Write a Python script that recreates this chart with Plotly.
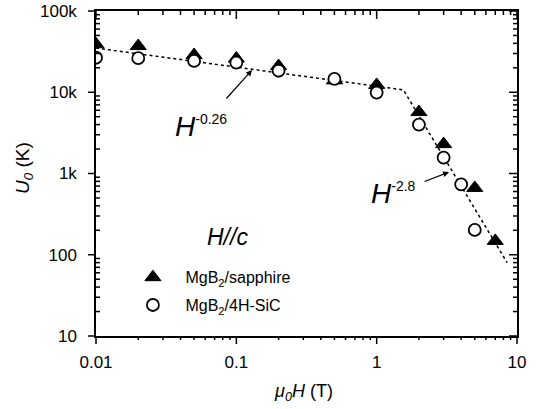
import math
import plotly.graph_objects as go

# Field values (T) and activation energies U0 (K)
h_sapphire = [0.01, 0.02, 0.05, 0.1, 0.2, 0.5, 1, 2, 3, 5, 7]
u_sapphire = [39000, 37000, 28700, 26000, 21000, 14000, 12300, 5700, 2300, 664, 148]

h_sic = [0.01, 0.02, 0.05, 0.1, 0.2, 0.5, 1, 2, 3, 4, 5]
u_sic = [26600, 26300, 24300, 23100, 18400, 14600, 9900, 4000, 1570, 736, 202]

# Power-law guide lines (H^-0.26 then H^-2.8), straight on log-log axes
h_fit = [0.01, 1.55, 8.5]
u_fit = [35000, 10700, 80]

x_tickvals = [0.01, 0.1, 1, 10]
x_ticktext = ["0.01", "0.1", "1", "10"]
y_tickvals = [10, 100, 1000, 10000, 100000]
y_ticktext = ["10", "100", "1k", "10k", "100k"]

# minor tick positions 2..9 within each decade
x_minor = [m * d for d in (0.01, 0.1, 1) for m in range(2, 10)]
y_minor = [m * d for d in (10, 100, 1000, 10000) for m in range(2, 10)]

FONT = "Liberation Sans, Arial, sans-serif"
X_RANGE = [-2, 1]
Y_RANGE = [1, 5]
W, H = 538, 409
MARGIN = dict(l=96, r=21, t=11, b=73)
PLOT_W = W - MARGIN["l"] - MARGIN["r"]
PLOT_H = H - MARGIN["t"] - MARGIN["b"]

fig = go.Figure()

fig.add_trace(go.Scatter(
    x=h_fit, y=u_fit, mode="lines",
    line=dict(color="black", width=1.5, dash="dot"),
    showlegend=False, hoverinfo="skip"))

fig.add_trace(go.Scatter(
    x=h_sapphire, y=u_sapphire, mode="markers",
    name="MgB<sub>2</sub>/sapphire", legendgroup="a",
    marker=dict(symbol="triangle-up", size=14, color="black",
                line=dict(color="black", width=1))))

fig.add_trace(go.Scatter(
    x=h_sic, y=u_sic, mode="markers",
    name="MgB<sub>2</sub>/4H-SiC", legendgroup="b",
    marker=dict(symbol="circle", size=12, color="white",
                line=dict(color="black", width=1.8))))

fig.update_layout(
    width=W, height=H, margin=MARGIN,
    paper_bgcolor="white", plot_bgcolor="white",
    font=dict(family=FONT, color="black"),
    xaxis=dict(
        type="log", range=X_RANGE, showgrid=False, zeroline=False,
        automargin=False, ticks="",
        showline=True, linecolor="black", linewidth=1.5, mirror=True,
        tickmode="array", tickvals=x_tickvals, ticktext=x_ticktext,
        ticklabelstandoff=10,
        tickfont=dict(family=FONT, size=17, color="black"),
    ),
    yaxis=dict(
        type="log", range=Y_RANGE, showgrid=False, zeroline=False,
        automargin=False, ticks="",
        showline=True, linecolor="black", linewidth=1.5, mirror=True,
        tickmode="array", tickvals=y_tickvals, ticktext=y_ticktext,
        ticklabelstandoff=14,
        tickfont=dict(family=FONT, size=17, color="black"),
    ),
    legend=dict(
        x=0.058, y=0.233, xanchor="left", yanchor="top",
        bgcolor="rgba(0,0,0,0)", borderwidth=0,
        font=dict(family=FONT, size=16, color="black"),
        itemwidth=55, tracegroupgap=4,
    ),
    showlegend=True,
)


# tick marks in paper units (paper spans the plot area), so they are not clipped
def frac(v, rng):
    return (math.log10(v) - rng[0]) / (rng[1] - rng[0])


TICK = dict(color="black", width=1.5)
for vals, major in ((x_tickvals, True), (x_minor, False)):
    ln = (8 if major else 4) / PLOT_H
    for v in vals:
        f = frac(v, X_RANGE)
        # bottom: out, top: in
        fig.add_shape(type="line", xref="paper", yref="paper", layer="above",
                      x0=f, x1=f, y0=0, y1=-ln, line=TICK)
        fig.add_shape(type="line", xref="paper", yref="paper", layer="above",
                      x0=f, x1=f, y0=1, y1=1 - ln, line=TICK)
for vals, major in ((y_tickvals, True), (y_minor, False)):
    ln = (8 if major else 4) / PLOT_W
    for v in vals:
        f = frac(v, Y_RANGE)
        # left: major out, minor in; right: in
        fig.add_shape(type="line", xref="paper", yref="paper", layer="above",
                      x0=0, x1=-ln if major else ln, y0=f, y1=f, line=TICK)
        fig.add_shape(type="line", xref="paper", yref="paper", layer="above",
                      x0=1, x1=1 - ln, y0=f, y1=f, line=TICK)

# axis titles
fig.add_annotation(x=0.492, y=-0.175, xref="paper", yref="paper", showarrow=False,
                   xanchor="center", yanchor="middle",
                   text="<i>μ</i><sub><i>0</i></sub><i>H</i> (T)",
                   font=dict(family=FONT, size=18, color="black"))
fig.add_annotation(x=-0.171, y=0.517, xref="paper", yref="paper", showarrow=False,
                   xanchor="center", yanchor="middle",
                   text="<i>U</i><sub><i>0</i></sub> (K)", textangle=-90,
                   font=dict(family=FONT, size=19, color="black"))

SUP = "<span style='font-size:14px'>{}</span>"

# slope labels with arrows
fig.add_annotation(x=-1.451, y=3.58, xref="x", yref="y", showarrow=False,
                   text="<i>H</i><sup>" + SUP.format("-0.26") + "</sup>", xanchor="left",
                   font=dict(family=FONT, size=28, color="black"))
fig.add_annotation(x=-0.888, y=4.274, xref="x", yref="y", text="",
                   showarrow=True, arrowhead=2, arrowsize=1, arrowwidth=1.2,
                   arrowcolor="black", ax=-27, ay=30)
fig.add_annotation(x=-0.055, y=2.75, xref="x", yref="y", showarrow=False,
                   text="<i>H</i><sup>" + SUP.format("-2.8") + "</sup>", xanchor="left",
                   font=dict(family=FONT, size=28, color="black"))
fig.add_annotation(x=0.516, y=3.018, xref="x", yref="y", text="",
                   showarrow=True, arrowhead=2, arrowsize=1, arrowwidth=1.2,
                   arrowcolor="black", ax=-26, ay=10)
fig.add_annotation(x=0.258, y=0.259, xref="paper", yref="paper", showarrow=False,
                   xanchor="left", yanchor="bottom",
                   text="<i>H//c</i>",
                   font=dict(family=FONT, size=23, color="black"))

fig.write_html("out.html")
